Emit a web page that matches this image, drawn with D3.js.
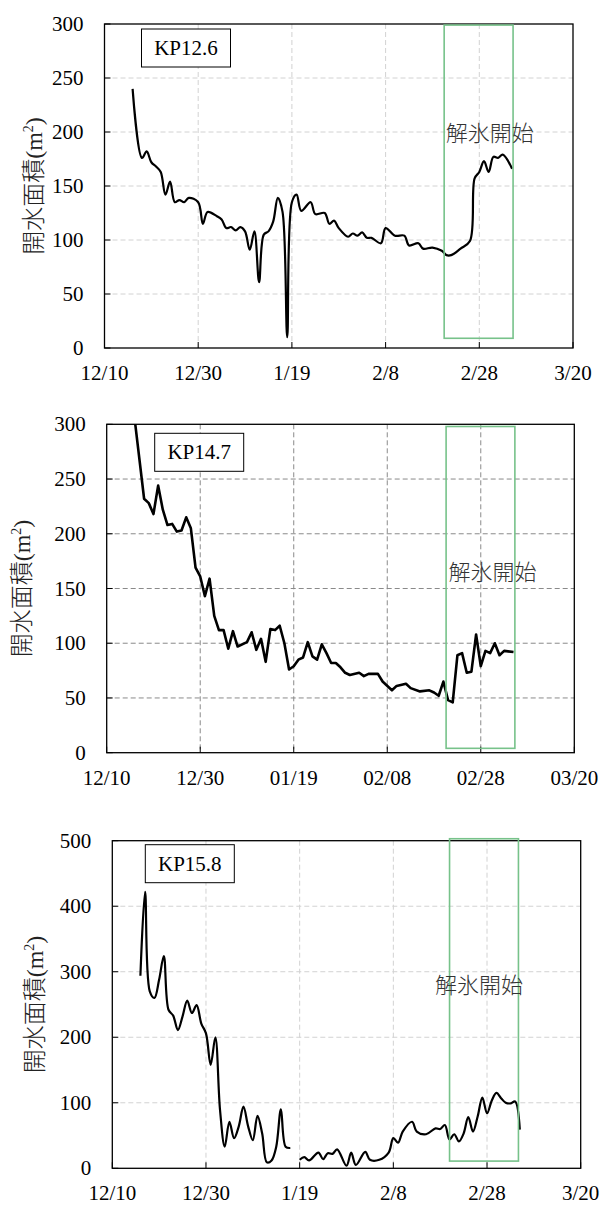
<!DOCTYPE html>
<html>
<head>
<meta charset="utf-8">
<script src="https://cdn.jsdelivr.net/npm/d3@7/dist/d3.min.js"></script>
<style>
  body { margin: 0; background: #fff; }
  svg { display: block; }
  .tick-label { font-family: "Liberation Serif", "Times New Roman", Times, "DejaVu Serif", "Noto Serif", serif; font-size: 21px; fill: #000; }
</style>
</head>
<body>
<div id="chart"></div>
<script>
// ---- data (dates are M/D, season Dec 2018 - Mar 2019) ----
var kp126Dates = ["12/16","12/18","12/19","12/20","12/21","12/22","12/23","12/24","12/25","12/26","12/27","12/28","12/30","12/31",
  "1/1","1/3","1/4","1/5","1/6","1/7","1/8","1/9","1/10","1/11","1/12","1/13","1/14","1/15","1/16","1/17","1/18","1/19","1/20","1/21",
  "1/23","1/24","1/26","1/27","1/28","1/29","1/31","2/1","2/2","2/3","2/4","2/5","2/7","2/8","2/10","2/12","2/13","2/15","2/16","2/18",
  "2/20","2/21","2/22","2/24","2/26","2/27","2/28","3/1","3/2","3/3","3/4","3/5","3/7"];
var kp126Area = [240,176,182,172,168,163,142,154,135,137,135,139,135,115,
  126,122,119,111,112,109,112,108,91,108,61,105,108,117,139,126,10,135,142,127,
  135,124,125,115,118,111,103,106,104,107,102,102,97,111,104,104,95,97,92,93,
  90,86,86,92,99,157,163,173,163,177,176,179,166];

var kp147Dates = ["12/15","12/18","12/19","12/20","12/21","12/22","12/23","12/24","12/25","12/26","12/27","12/28","12/29","12/30","12/31",
  "1/1","1/2","1/3","1/4","1/5","1/6","1/7","1/9","1/10","1/11","1/12","1/13","1/14","1/15","1/16","1/17","1/18","1/19","1/20","1/21",
  "1/22","1/23","1/24","1/25","1/26","1/27","1/28","1/29","1/30","1/31","2/2","2/3","2/4","2/6","2/7","2/9","2/10","2/12","2/13","2/15",
  "2/17","2/18","2/19","2/20","2/21","2/22","2/23","2/24","2/25","2/26","2/27","2/28","3/1","3/2","3/3","3/4","3/5","3/7"];
var kp147Area = [340,232,228,218,244,222,208,209,202,203,215,205,169,161,143,
  159,125,112,112,95,111,97,101,110,94,104,83,113,112,116,100,76,79,85,87,
  101,88,85,99,91,82,82,78,73,71,73,70,72,72,65,57,61,63,59,56,
  57,55,52,65,48,46,89,91,73,74,108,79,93,91,100,89,93,92];

var kp158Dates = ["12/16","12/17","12/18","12/19","12/20","12/21","12/22","12/23","12/24","12/25","12/26","12/27","12/28","12/29","12/30","12/31",
  "1/1","1/2","1/3","1/4","1/5","1/6","1/7","1/8","1/9","1/10","1/11","1/12","1/13","1/14","1/15","1/16","1/17","1/18","1/19","1/20","1/21",
  "1/23","1/24","1/25","1/26","1/27","1/29","1/30","1/31","2/2","2/3","2/5","2/7","2/8","2/9","2/10","2/12","2/13","2/15","2/17","2/18",
  "2/19","2/20","2/21","2/22","2/23","2/24","2/25","2/26","2/27","2/28","3/1","3/2","3/3","3/4","3/5","3/6","3/7"];
var kp158Area = [294,422,270,260,288,324,242,233,211,232,256,237,249,221,206,158,
  200,89,33,71,46,64,94,64,43,80,53,9,12,33,90,33,31,null,13,17,12,
  24,14,23,22,29,4,24,5,25,13,13,24,46,39,56,71,56,52,61,60,
  66,44,52,41,53,78,56,79,108,84,103,115,107,100,99,102,59];

var panelNames = ["KP12.6", "KP14.7", "KP15.8"];
var xTickDates = ["12/10", "12/30", "1/19", "2/8", "2/28", "3/20"];
var xTickLabelsA = ["12/10", "12/30", "1/19", "2/8", "2/28", "3/20"];
var xTickLabelsB = ["12/10", "12/30", "01/19", "02/08", "02/28", "03/20"];
var yTicks300 = [0, 50, 100, 150, 200, 250, 300];
var yTicks500 = [0, 100, 200, 300, 400, 500];

// thaw window (解氷開始) per panel
var thawFrom = ["2/20.5", "2/20.6", "2/20"];
var thawTo = ["3/7.2", "3/7.3", "3/6.7"];
var thawLow = [9, 4, 11];
var thawHigh = [299, 298, 503];

var yLabel = "開水面積";
var thawLabel = "解氷開始";
var serif = "'Liberation Serif', 'Times New Roman', Times, 'DejaVu Serif', 'Noto Serif', serif";

function parseMD(s) {
    var p = s.split("/").map(Number);
    var year = p[0] >= 10 ? 2018 : 2019;
    var day = Math.floor(p[1]);
    return new Date(year, p[0] - 1, day, Math.round((p[1] - day) * 24));
}

var svg = d3.select("#chart").append("svg")
    .attr("width", 601)
    .attr("height", 1205);

var panels = [
    { dates: kp126Dates, values: kp126Area, yMax: 300, yTicks: yTicks300, labels: xTickLabelsA,
      left: 104.5, right: 573, top: 24, bottom: 348, grid: "#d2d2d2", smooth: true, lineW: 2.2,
      ylabX: 34, box: [37, 5], note: ["3/2.2", 199] },
    { dates: kp147Dates, values: kp147Area, yMax: 300, yTicks: yTicks300, labels: xTickLabelsB,
      left: 106.7, right: 574.3, top: 424.3, bottom: 752.7, grid: "#8a8a8a", smooth: false, lineW: 2.6,
      ylabX: 22, box: [48, 9], note: ["3/2.5", 165] },
    { dates: kp158Dates, values: kp158Area, yMax: 500, yTicks: yTicks500, labels: xTickLabelsA,
      left: 112.3, right: 580.7, top: 840.7, bottom: 1168.3, grid: "#d2d2d2", smooth: true, lineW: 2.2,
      ylabX: 35, box: [33, 4], note: ["2/26.3", 280] }
];

panels.forEach(function(p, i) {
    var x = d3.scaleTime()
        .domain([parseMD("12/10"), parseMD("3/20")])
        .range([p.left, p.right]);
    var y = d3.scaleLinear()
        .domain([0, p.yMax])
        .range([p.bottom, p.top]);

    var g = svg.append("g");

    // grid
    g.selectAll(".gy").data(p.yTicks.filter(function(v) { return v > 0 && v < p.yMax; }))
        .enter().append("line")
        .attr("x1", p.left).attr("x2", p.right)
        .attr("y1", function(d) { return y(d); }).attr("y2", function(d) { return y(d); })
        .attr("stroke", p.grid).attr("stroke-width", 1).attr("stroke-dasharray", "5,3");
    g.selectAll(".gx").data(xTickDates.slice(1, -1))
        .enter().append("line")
        .attr("y1", p.top).attr("y2", p.bottom)
        .attr("x1", function(d) { return x(parseMD(d)); }).attr("x2", function(d) { return x(parseMD(d)); })
        .attr("stroke", p.grid).attr("stroke-width", 1).attr("stroke-dasharray", "5,3");

    // ticks (inside)
    g.selectAll(".ty").data(p.yTicks)
        .enter().append("line")
        .attr("x1", p.left).attr("x2", p.left + 6)
        .attr("y1", function(d) { return y(d); }).attr("y2", function(d) { return y(d); })
        .attr("stroke", "#000");
    g.selectAll(".tx").data(xTickDates)
        .enter().append("line")
        .attr("y1", p.bottom).attr("y2", p.bottom - 6)
        .attr("x1", function(d) { return x(parseMD(d)); }).attr("x2", function(d) { return x(parseMD(d)); })
        .attr("stroke", "#000");

    // tick labels
    g.selectAll(".ly").data(p.yTicks)
        .enter().append("text")
        .attr("class", "tick-label")
        .style("font-family", serif)
        .attr("x", p.left - 21)
        .attr("y", function(d) { return y(d) + 7; })
        .attr("text-anchor", "end")
        .text(function(d) { return d; });
    g.selectAll(".lx").data(xTickDates)
        .enter().append("text")
        .attr("class", "tick-label")
        .style("font-family", serif)
        .attr("x", function(d) { return x(parseMD(d)); })
        .attr("y", p.bottom + 32)
        .attr("text-anchor", "middle")
        .text(function(d, j) { return p.labels[j]; });

    // y axis title
    var yt = g.append("text")
        .attr("transform", "translate(" + (p.ylabX + 8) + "," + ((p.top + p.bottom) / 2) + ") rotate(-90)")
        .attr("text-anchor", "middle")
        .attr("fill", "#222");
    yt.append("tspan")
        .style("font-family", "'Noto Sans CJK JP', sans-serif")
        .style("font-size", "24px")
        .style("font-weight", "300")
        .text(yLabel);
    yt.append("tspan")
        .style("font-family", serif)
        .style("font-size", "24px")
        .text("(m");
    yt.append("tspan")
        .style("font-family", serif)
        .style("font-size", "14px")
        .attr("dy", -9)
        .text("2");
    yt.append("tspan")
        .style("font-family", serif)
        .style("font-size", "24px")
        .attr("dy", 9)
        .text(")");

    // data line
    var clipId = "clip" + i;
    svg.append("clipPath").attr("id", clipId)
        .append("rect")
        .attr("x", p.left).attr("y", p.top)
        .attr("width", p.right - p.left).attr("height", p.bottom - p.top);

    var pts = p.dates.map(function(d, j) { return { date: parseMD(d), value: p.values[j] }; });
    var line = d3.line()
        .defined(function(d) { return d.value !== null; })
        .x(function(d) { return x(d.date); })
        .y(function(d) { return y(d.value); })
        .curve(p.smooth ? d3.curveCatmullRom.alpha(0.5) : d3.curveLinear);

    g.append("path")
        .datum(pts)
        .attr("clip-path", "url(#" + clipId + ")")
        .attr("d", line)
        .attr("fill", "none")
        .attr("stroke", "#000")
        .attr("stroke-width", p.lineW)
        .attr("stroke-linejoin", "round");

    // frame
    g.append("rect")
        .attr("x", p.left).attr("y", p.top)
        .attr("width", p.right - p.left).attr("height", p.bottom - p.top)
        .attr("fill", "none").attr("stroke", "#000").attr("stroke-width", 1.3);

    // thaw window
    var tx0 = x(parseMD(thawFrom[i])), tx1 = x(parseMD(thawTo[i]));
    g.append("rect")
        .attr("x", tx0).attr("y", y(thawHigh[i]))
        .attr("width", tx1 - tx0).attr("height", y(thawLow[i]) - y(thawHigh[i]))
        .attr("fill", "none").attr("stroke", "#77c28a").attr("stroke-width", 1.6);

    g.append("text")
        .attr("x", x(parseMD(p.note[0])))
        .attr("y", y(p.note[1]) + 8)
        .attr("text-anchor", "middle")
        .style("font-family", "'Noto Sans CJK JP', sans-serif")
        .style("font-size", "22px")
        .style("font-weight", "300")
        .attr("fill", "#333")
        .text(thawLabel);

    // station label box
    var bx = p.left + p.box[0], by = p.top + p.box[1];
    g.append("rect")
        .attr("x", bx).attr("y", by)
        .attr("width", 89).attr("height", 38)
        .attr("fill", "#fff").attr("stroke", "#000").attr("stroke-width", 1);
    g.append("text")
        .attr("class", "tick-label")
        .style("font-family", serif)
        .attr("x", bx + 44.5)
        .attr("y", by + 26)
        .attr("text-anchor", "middle")
        .text(panelNames[i]);
});
</script>
</body>
</html>
